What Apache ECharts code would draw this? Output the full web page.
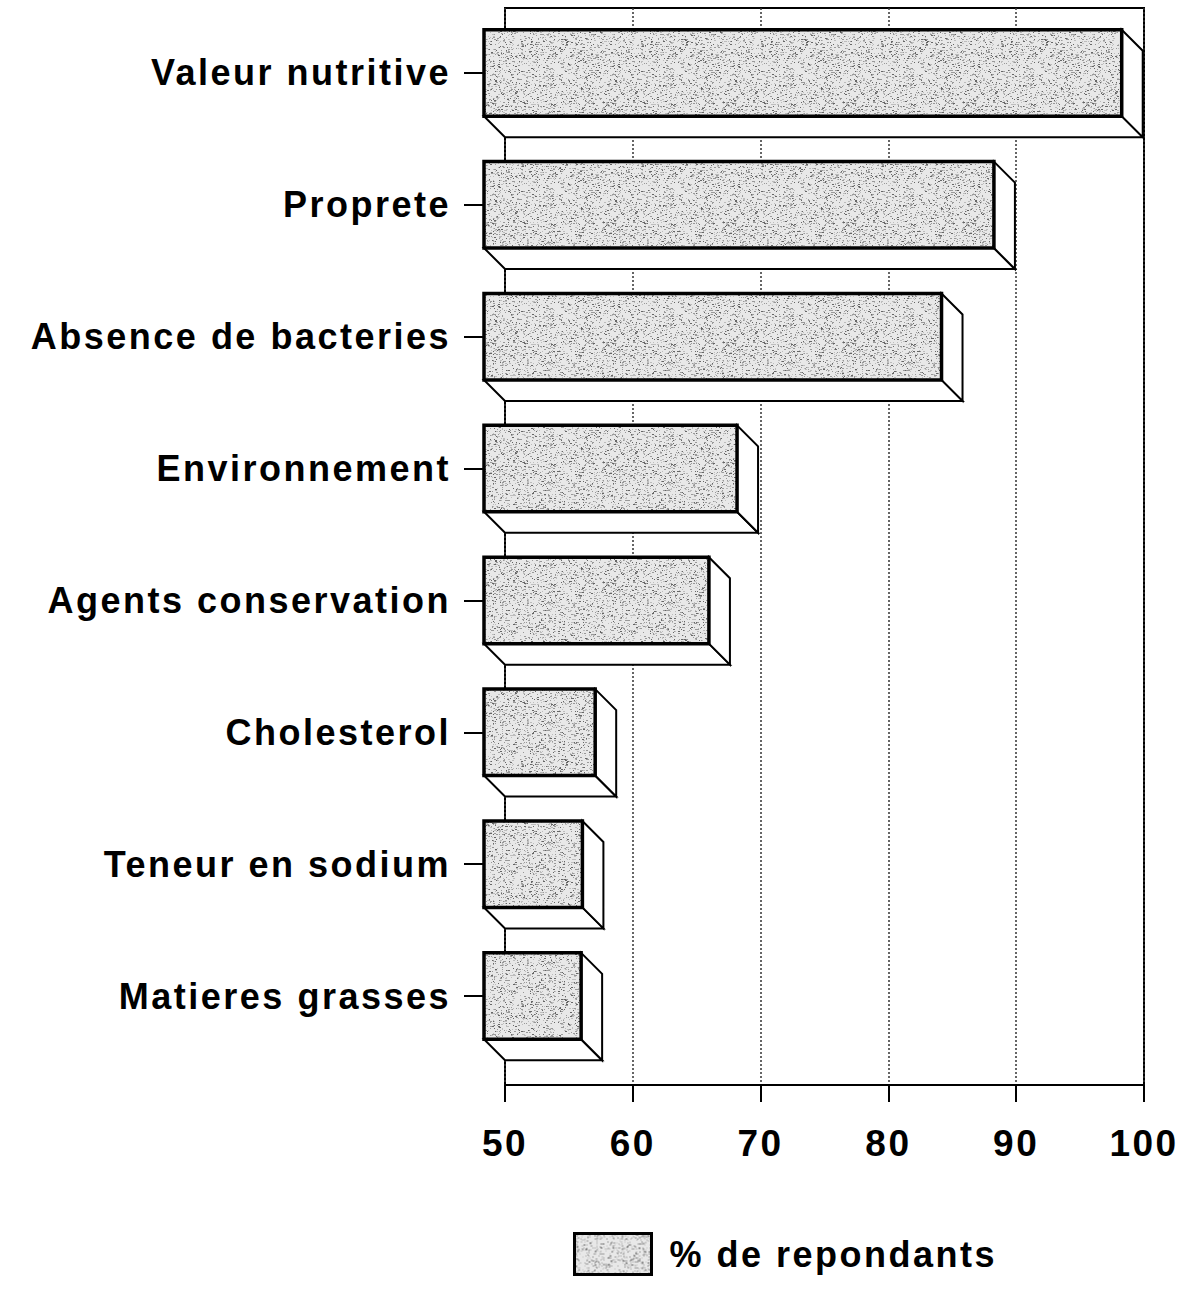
<!DOCTYPE html>
<html><head><meta charset="utf-8">
<script src="https://cdn.jsdelivr.net/npm/echarts@6/dist/echarts.min.js"></script>
<style>
html,body{margin:0;padding:0;background:#fff;}
#main{width:1191px;height:1298px;}
#main text{letter-spacing:2.5px;}
</style></head><body><div id="main"></div>
<script>
const categories = ['Valeur nutritive','Proprete','Absence de bacteries','Environnement','Agents conservation','Cholesterol','Teneur en sodium','Matieres grasses'];
const values = [99.9, 89.9, 85.8, 69.8, 67.6, 58.7, 57.7, 57.6];
const xTicks = [50, 60, 70, 80, 90, 100];
const seriesName = '% de repondants';

const FONT = "'Liberation Sans', Arial, Helvetica, sans-serif";

// speckled grey texture (styling only)
function makeTexture(){
  const n = 120;
  const c = document.createElement('canvas'); c.width = n; c.height = n;
  const ctx = c.getContext('2d');
  ctx.fillStyle = '#e8e8e8'; ctx.fillRect(0,0,n,n);
  let s = 12345;
  const rnd = () => { s = (s * 1103515245 + 12345) & 0x7fffffff; return s / 0x7fffffff; };
  for (let i = 0; i < 2600; i++) {
    const x = Math.floor(rnd()*n), y = Math.floor(rnd()*n), g = rnd();
    ctx.fillStyle = g < 0.2 ? '#666' : (g < 0.6 ? '#999' : '#bdbdbd');
    ctx.fillRect(x, y, rnd() < 0.35 ? 2 : 1, 1);
  }
  return c.toDataURL();
}
const pattern = { image: makeTexture(), repeat: 'repeat', imageWidth: 120, imageHeight: 120 };

const chart = echarts.init(document.getElementById('main'), null, { renderer: 'svg' });
const option = {
  animation: false,
  backgroundColor: '#fff',
  grid: [
    { left: 505, right: 47, top: 8, bottom: 213, show: true, borderColor: '#000', borderWidth: 2, backgroundColor: 'transparent' },
    { left: 484, right: 68, top: 7, bottom: 236 }
  ],
  xAxis: [
    { gridIndex: 0, type: 'value', min: xTicks[0], max: xTicks[xTicks.length-1], interval: xTicks[1]-xTicks[0],
      axisLine: { show: true, lineStyle: { color: '#000', width: 2 } },
      axisTick: { show: true, length: 17, lineStyle: { color: '#000', width: 2 } },
      axisLabel: { color: '#000', fontSize: 37, fontWeight: 'bold', fontFamily: FONT, margin: 40 },
      splitLine: { show: true, lineStyle: { color: '#333', width: 1.5, type: [2, 2] } } },
    { gridIndex: 1, type: 'value', min: xTicks[0], max: xTicks[xTicks.length-1], show: false }
  ],
  yAxis: [
    { gridIndex: 0, type: 'value', show: false },
    { gridIndex: 1, type: 'category', data: categories, inverse: true,
      axisLine: { show: false },
      axisTick: { show: true, alignWithLabel: true, length: 20, lineStyle: { color: '#000', width: 2 } },
      axisLabel: { color: '#000', fontSize: 36, fontWeight: 'bold', fontFamily: FONT, margin: 33 },
      splitLine: { show: false } }
  ],
  legend: {
    left: 573, top: 1232, padding: 0, itemWidth: 77, itemHeight: 41,
    data: [{ name: seriesName, icon: 'rect', itemStyle: { color: pattern, borderColor: '#000', borderWidth: 3 } }],
    textStyle: { color: '#000', fontSize: 36, fontWeight: 'bold', fontFamily: FONT, padding: [0, 0, 0, 13] }
  },
  series: [{
    name: seriesName, type: 'custom', xAxisIndex: 1, yAxisIndex: 1,
    itemStyle: { color: pattern },
    encode: { x: 0, y: 1 },
    data: values.map((v, i) => [v, i]),
    renderItem: function (params, api) {
      const idx = api.value(1);
      const v = api.value(0);
      const p0 = api.coord([xTicks[0], idx]);
      const p1 = api.coord([v, idx]);
      const band = api.size([0, 1])[1];
      const h = band * 0.655;
      const x0 = p0[0], x1 = p1[0], y0 = p0[1] - h/2, y1 = p0[1] + h/2;
      const dx = 21, dy = 21;
      return { type: 'group', children: [
        { type: 'polygon', shape: { points: [[x0,y1],[x1,y1],[x1+dx,y1+dy],[x0+dx,y1+dy]] }, style: { fill: '#fff', stroke: '#000', lineWidth: 2 } },
        { type: 'polygon', shape: { points: [[x1,y0],[x1+dx,y0+dy],[x1+dx,y1+dy],[x1,y1]] }, style: { fill: '#fff', stroke: '#000', lineWidth: 2 } },
        { type: 'rect', shape: { x: x0, y: y0, width: x1-x0, height: h }, style: { fill: pattern, stroke: '#000', lineWidth: 3.5 } }
      ]};
    }
  }]
};
chart.setOption(option);
</script></body></html>
